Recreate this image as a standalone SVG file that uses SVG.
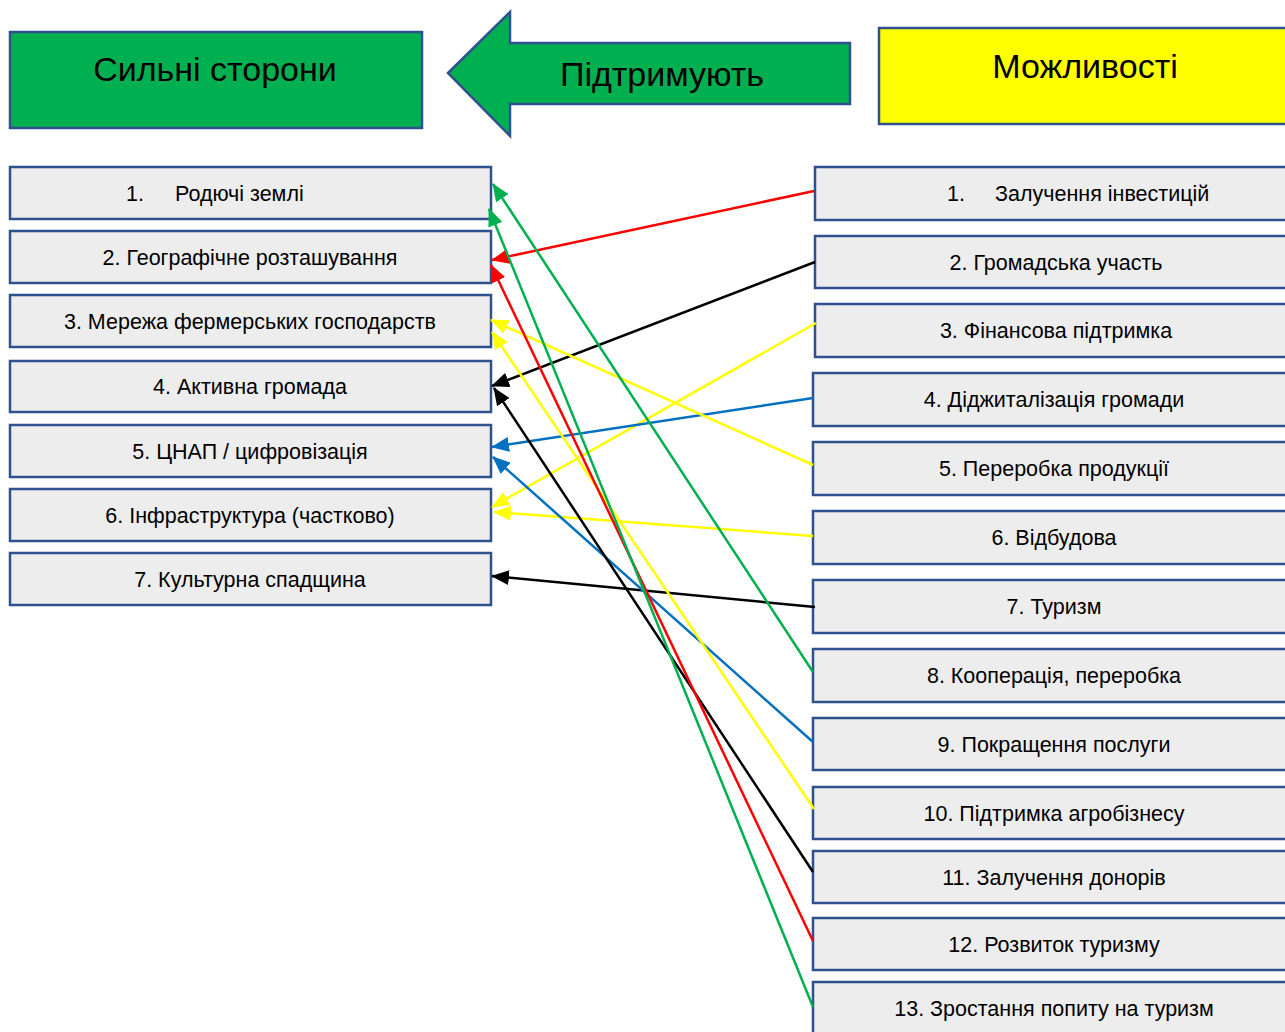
<svg xmlns="http://www.w3.org/2000/svg" width="1285" height="1032" viewBox="0 0 1285 1032">
<defs>
<style>
.box{fill:#EDEDED;stroke:#2F528F;stroke-width:2.5}
.hdr{stroke:#2F528F;stroke-width:2.5}
.t{font-family:"Liberation Sans",Arial,sans-serif;font-size:21.5px;fill:#000;text-anchor:middle}
.ts{font-family:"Liberation Sans",Arial,sans-serif;font-size:21.5px;fill:#000}
.h{font-family:"Liberation Sans",Arial,sans-serif;font-size:34px;fill:#000;text-anchor:middle}
.c{fill:none;stroke-width:2.5}
</style>
<marker id="aR" viewBox="0 0 18 15" refX="17" refY="7.5" markerWidth="18" markerHeight="15" markerUnits="userSpaceOnUse" orient="auto"><path d="M0,0 L18,7.5 L0,15 z" fill="#FF0000"/></marker>
<marker id="aK" viewBox="0 0 18 15" refX="17" refY="7.5" markerWidth="18" markerHeight="15" markerUnits="userSpaceOnUse" orient="auto"><path d="M0,0 L18,7.5 L0,15 z" fill="#000000"/></marker>
<marker id="aY" viewBox="0 0 18 15" refX="17" refY="7.5" markerWidth="18" markerHeight="15" markerUnits="userSpaceOnUse" orient="auto"><path d="M0,0 L18,7.5 L0,15 z" fill="#FFFF00"/></marker>
<marker id="aB" viewBox="0 0 18 15" refX="17" refY="7.5" markerWidth="18" markerHeight="15" markerUnits="userSpaceOnUse" orient="auto"><path d="M0,0 L18,7.5 L0,15 z" fill="#0070C0"/></marker>
<marker id="aG" viewBox="0 0 18 15" refX="17" refY="7.5" markerWidth="18" markerHeight="15" markerUnits="userSpaceOnUse" orient="auto"><path d="M0,0 L18,7.5 L0,15 z" fill="#00B050"/></marker>
</defs>
<rect width="1285" height="1032" fill="#FFFFFF"/>

<g id="header-strengths">
<rect class="hdr" x="10" y="32" width="412" height="96" fill="#00B050"/>
<text class="h" x="215" y="81">Сильні сторони</text>
</g>
<g id="header-arrow">
<polygon class="hdr" points="448,73 510,12 510,43 850,43 850,104 510,104 510,136" fill="#00B050"/>
<text class="h" x="662" y="86">Підтримують</text>
</g>
<g id="header-opportunities">
<rect class="hdr" x="879" y="28" width="420" height="96" fill="#FFFF00"/>
<text class="h" x="1085" y="78">Можливості</text>
</g>

<g id="s1"><rect class="box" x="10" y="167" width="481" height="52"/><text class="ts" x="126" y="201">1.</text><text class="ts" x="175" y="201">Родючі землі</text></g>
<g id="s2"><rect class="box" x="10" y="231" width="481" height="52"/><text class="t" x="250" y="265">2. Географічне розташування</text></g>
<g id="s3"><rect class="box" x="10" y="295" width="481" height="52"/><text class="t" x="250" y="329">3. Мережа фермерських господарств</text></g>
<g id="s4"><rect class="box" x="10" y="361" width="481" height="51"/><text class="t" x="250" y="394">4. Активна громада</text></g>
<g id="s5"><rect class="box" x="10" y="425" width="481" height="52"/><text class="t" x="250" y="459">5. ЦНАП / цифровізація</text></g>
<g id="s6"><rect class="box" x="10" y="489" width="481" height="52"/><text class="t" x="250" y="523">6. Інфраструктура (частково)</text></g>
<g id="s7"><rect class="box" x="10" y="553" width="481" height="52"/><text class="t" x="250" y="587">7. Культурна спадщина</text></g>

<g id="o1"><rect class="box" x="815" y="167" width="490" height="53"/><text class="ts" x="947" y="201">1.</text><text class="ts" x="995" y="201">Залучення інвестицій</text></g>
<g id="o2"><rect class="box" x="815" y="236" width="490" height="52"/><text class="t" x="1056" y="270">2. Громадська участь</text></g>
<g id="o3"><rect class="box" x="815" y="304" width="490" height="53"/><text class="t" x="1056" y="338">3. Фінансова підтримка</text></g>
<g id="o4"><rect class="box" x="813" y="373" width="490" height="53"/><text class="t" x="1054" y="407">4. Діджиталізація громади</text></g>
<g id="o5"><rect class="box" x="813" y="442" width="490" height="53"/><text class="t" x="1054" y="476">5. Переробка продукції</text></g>
<g id="o6"><rect class="box" x="813" y="511" width="490" height="53"/><text class="t" x="1054" y="545">6. Відбудова</text></g>
<g id="o7"><rect class="box" x="813" y="580" width="490" height="53"/><text class="t" x="1054" y="614">7. Туризм</text></g>
<g id="o8"><rect class="box" x="813" y="649" width="490" height="53"/><text class="t" x="1054" y="683">8. Кооперація, переробка</text></g>
<g id="o9"><rect class="box" x="813" y="718" width="490" height="52"/><text class="t" x="1054" y="752">9. Покращення послуги</text></g>
<g id="o10"><rect class="box" x="813" y="787" width="490" height="52"/><text class="t" x="1054" y="821">10. Підтримка агробізнесу</text></g>
<g id="o11"><rect class="box" x="813" y="851" width="490" height="52"/><text class="t" x="1054" y="885">11. Залучення донорів</text></g>
<g id="o12"><rect class="box" x="813" y="918" width="490" height="52"/><text class="t" x="1054" y="952">12. Розвиток туризму</text></g>
<g id="o13"><rect class="box" x="813" y="982" width="490" height="60"/><text class="t" x="1054" y="1016">13. Зростання попиту на туризм</text></g>

<g id="connectors">
<line class="c" stroke="#FF0000" x1="814" y1="191" x2="492" y2="260" marker-end="url(#aR)"/>
<line class="c" stroke="#000000" x1="815" y1="262" x2="492" y2="386" marker-end="url(#aK)"/>
<line class="c" stroke="#FFFF00" x1="816" y1="323" x2="492" y2="507" marker-end="url(#aY)"/>
<line class="c" stroke="#0070C0" x1="813" y1="398" x2="492" y2="447" marker-end="url(#aB)"/>
<line class="c" stroke="#FFFF00" x1="813" y1="465" x2="491" y2="320" marker-end="url(#aY)"/>
<line class="c" stroke="#FFFF00" x1="813" y1="536" x2="494" y2="512" marker-end="url(#aY)"/>
<line class="c" stroke="#000000" x1="815" y1="607" x2="492" y2="576" marker-end="url(#aK)"/>
<line class="c" stroke="#00B050" x1="813" y1="672" x2="493" y2="184" marker-end="url(#aG)"/>
<line class="c" stroke="#0070C0" x1="813" y1="742" x2="493" y2="457" marker-end="url(#aB)"/>
<line class="c" stroke="#FFFF00" x1="814" y1="809" x2="492" y2="332" marker-end="url(#aY)"/>
<line class="c" stroke="#000000" x1="813" y1="872" x2="494" y2="388" marker-end="url(#aK)"/>
<line class="c" stroke="#FF0000" x1="813" y1="941" x2="491" y2="265" marker-end="url(#aR)"/>
<line class="c" stroke="#00B050" x1="813" y1="1007" x2="489" y2="209" marker-end="url(#aG)"/>
</g>
</svg>
